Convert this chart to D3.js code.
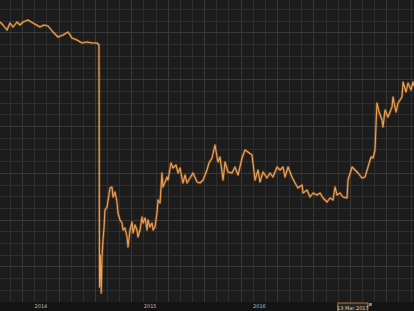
<!DOCTYPE html>
<html>
<head>
<meta charset="utf-8">
<script src="https://cdn.jsdelivr.net/npm/d3@7"></script>
<style>
    html, body { margin: 0; padding: 0; background: #121212; }
    #chart { width: 414px; height: 311px; }
    text { font-family: "DejaVu Sans", sans-serif; }
</style>
</head>
<body>
<div id="chart"></div>
<script>
// decimal year of each observation
const TIMES = [
    2014.130, 2014.157, 2014.194, 2014.222, 2014.249, 2014.286, 2014.313, 2014.341, 2014.386, 2014.432,
    2014.496, 2014.533, 2014.569, 2014.615, 2014.661, 2014.707, 2014.753, 2014.789, 2014.835, 2014.881,
    2014.926, 2014.972, 2015.018, 2015.036,
    // crash and after
    2015.041, 2015.048, 2015.057, 2015.064, 2015.073, 2015.082, 2015.091, 2015.110, 2015.137, 2015.155,
    2015.165, 2015.183, 2015.201, 2015.210, 2015.229, 2015.247, 2015.256, 2015.274, 2015.293, 2015.302,
    2015.320, 2015.339, 2015.348, 2015.366, 2015.384, 2015.393, 2015.412, 2015.430, 2015.439, 2015.458,
    2015.476, 2015.485, 2015.503, 2015.522, 2015.531, 2015.549, 2015.567, 2015.577, 2015.595, 2015.613,
    2015.622, 2015.641, 2015.659, 2015.668, 2015.696, 2015.714, 2015.741, 2015.760, 2015.778, 2015.805,
    2015.824, 2015.842, 2015.870, 2015.897, 2015.934, 2015.961, 2015.989, 2016.025, 2016.043, 2016.071,
    2016.098, 2016.117, 2016.126, 2016.144, 2016.172, 2016.190, 2016.217, 2016.254, 2016.281, 2016.309,
    2016.346, 2016.373, 2016.400, 2016.437, 2016.465, 2016.492, 2016.510, 2016.538, 2016.574, 2016.602,
    2016.629, 2016.666, 2016.693, 2016.721, 2016.739, 2016.767, 2016.803, 2016.831, 2016.858, 2016.895,
    2016.904, 2016.941, 2016.968, 2016.996, 2017.032, 2017.060, 2017.087, 2017.124, 2017.151, 2017.179,
    2017.197, 2017.215, 2017.243, 2017.270, 2017.307, 2017.316, 2017.353, 2017.380, 2017.408, 2017.444,
    2017.472, 2017.499, 2017.527, 2017.545, 2017.563, 2017.572, 2017.581, 2017.600, 2017.627, 2017.636,
    2017.655, 2017.682, 2017.719, 2017.728, 2017.755, 2017.774, 2017.810, 2017.820, 2017.847, 2017.865,
    2017.893, 2017.911, 2017.920
];

const PRICES = [
    28.0, 27.7, 27.2, 27.9, 27.5, 28.0, 27.7, 28.0, 28.2, 27.9,
    27.5, 27.7, 27.6, 27.0, 26.5, 26.7, 27.0, 26.4, 26.2, 25.9,
    26.0, 25.9, 25.9, 25.7,
    // crash and after
    1.5, 4.7, 0.9, 4.5, 6.2, 7.4, 9.2, 9.5, 11.4, 11.5,
    10.5, 11.0, 10.0, 8.9, 8.2, 7.9, 7.2, 7.4, 6.5, 5.5,
    7.2, 8.0, 6.9, 7.7, 7.2, 6.5, 7.2, 8.5, 7.9, 8.4,
    7.2, 8.2, 7.5, 7.9, 7.2, 7.5, 8.9, 10.2, 9.9, 12.9,
    11.5, 12.0, 12.5, 12.2, 13.9, 13.4, 13.7, 12.9, 13.4, 11.9,
    12.7, 11.9, 12.4, 12.9, 12.0, 11.9, 12.2, 13.2, 13.9, 14.4,
    15.7, 14.5, 14.0, 14.5, 12.2, 14.0, 13.0, 12.9, 13.5, 12.7,
    14.4, 15.2, 15.0, 14.7, 12.2, 13.2, 12.0, 13.0, 12.4, 12.9,
    12.5, 13.5, 13.2, 13.5, 12.5, 13.5, 12.5, 11.9, 11.4, 11.7,
    10.9, 11.2, 10.5, 10.9, 10.7, 10.9, 10.4, 10.0, 10.4, 10.2,
    11.5, 10.7, 10.9, 10.5, 10.4, 12.2, 13.5, 13.2, 12.9, 12.4,
    12.5, 13.5, 14.5, 14.4, 15.2, 17.7, 19.9, 19.0, 18.2, 17.5,
    19.2, 18.5, 19.5, 20.5, 19.0, 19.9, 20.5, 22.0, 21.0, 21.9,
    21.2, 22.0, 21.6
];

const YEAR_TICKS = [2014.5, 2015.5, 2016.5];
const YEAR_LABELS = ["2014", "2015", "2016"];

const MARKER_TIME = 2017.36;
const MARKER_LABEL = "13 Mar 2017";

const createPriceChart = () => {
    const width = 414;
    const height = 311;
    const plotBottom = 302;

    const svg = d3.select("#chart").append("svg")
        .attr("width", width)
        .attr("height", height);

    const x = d3.scaleLinear()
        .domain([2014.13, 2017.92])
        .range([0, width]);

    const y = d3.scaleLinear()
        .domain([0, 30.2])
        .range([plotBottom, 0]);

    // plot background
    svg.append("rect")
        .attr("width", width)
        .attr("height", plotBottom)
        .attr("fill", "#1c1c1c");

    // grid
    const grid = svg.append("g").attr("shape-rendering", "crispEdges");
    grid.selectAll(".vgrid")
        .data(d3.range(2014.226, 2017.92, 1 / 9))
        .join("line")
        .attr("class", "vgrid")
        .attr("x1", d => x(d)).attr("x2", d => x(d))
        .attr("y1", 0).attr("y2", plotBottom)
        .attr("stroke", (d, i) => i % 3 === 1 ? "#383838" : "#2e2e2e");
    grid.selectAll(".hgrid")
        .data(d3.range(1.17, 30.2, 1.17))
        .join("line")
        .attr("class", "hgrid")
        .attr("x1", 0).attr("x2", width)
        .attr("y1", d => y(d)).attr("y2", d => y(d))
        .attr("stroke", (d, i) => i % 4 === 2 ? "#383838" : "#2e2e2e");

    // axis band
    svg.append("rect")
        .attr("y", plotBottom)
        .attr("width", width)
        .attr("height", height - plotBottom)
        .attr("fill", "#141414");

    const axis = svg.append("g")
        .attr("transform", `translate(0,${plotBottom})`)
        .call(d3.axisBottom(x)
            .tickValues(YEAR_TICKS)
            .tickFormat((d, i) => YEAR_LABELS[i])
            .tickSize(0)
            .tickPadding(2));
    axis.select(".domain").remove();
    axis.selectAll("text")
        .attr("fill", "#bdbdbd")
        .attr("font-size", 5);

    // price line
    const points = TIMES.map((t, i) => [t, PRICES[i]]);
    const line = d3.line()
        .x(d => x(d[0]))
        .y(d => y(d[1]));

    svg.append("path")
        .datum(points)
        .attr("fill", "none")
        .attr("stroke", "#f5a04a")
        .attr("stroke-opacity", 0.3)
        .attr("stroke-width", 2.6)
        .attr("stroke-linejoin", "round")
        .attr("d", line);
    svg.append("path")
        .datum(points)
        .attr("fill", "none")
        .attr("stroke", "#f3a050")
        .attr("stroke-width", 1.1)
        .attr("stroke-linejoin", "round")
        .attr("d", line);

    // date marker on the axis
    const mx = x(MARKER_TIME);
    const marker = svg.append("g").attr("transform", `translate(${mx},${plotBottom + 1})`);
    marker.append("rect")
        .attr("x", -15).attr("y", 0)
        .attr("width", 30).attr("height", 9)
        .attr("fill", "#2a241e")
        .attr("stroke", "#b07a3e")
        .attr("stroke-width", 1);
    marker.append("text")
        .attr("y", 6.5)
        .attr("text-anchor", "middle")
        .attr("font-size", 5)
        .attr("fill", "#d8d0c4")
        .text(MARKER_LABEL);
    marker.append("rect")
        .attr("x", 16).attr("y", 0)
        .attr("width", 3).attr("height", 3)
        .attr("fill", "#8a8a8a");
};

window.addEventListener("DOMContentLoaded", () => {
    createPriceChart();
}, {once: true});
</script>
</body>
</html>
